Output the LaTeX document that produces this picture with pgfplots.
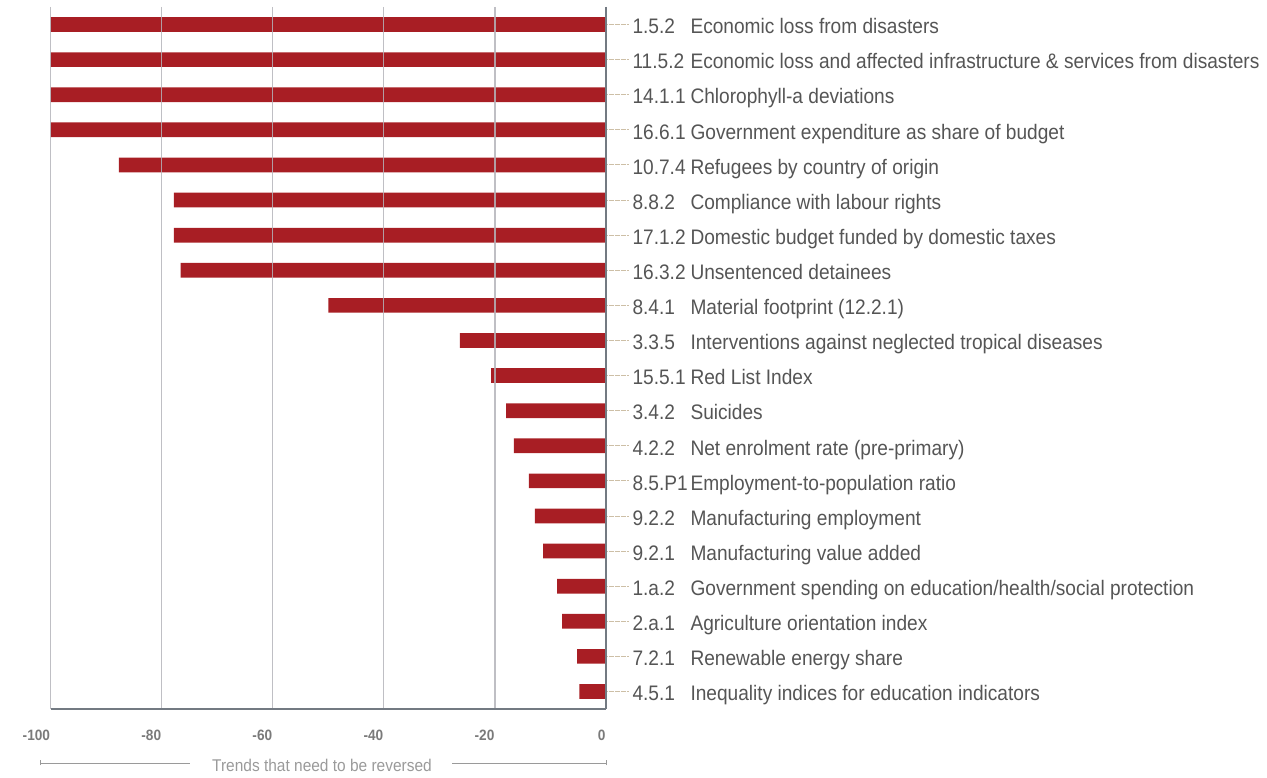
\documentclass[border=0pt]{standalone}
\usepackage{fontspec}
\setmainfont{Liberation Sans}[FakeStretch=0.91]
\usepackage{pgfplots}
\pgfplotsset{compat=1.18}
\usepackage{pgfplotstable}
\definecolor{barred}{HTML}{A81E24}
\definecolor{gridgrey}{HTML}{B4B4BA}
\definecolor{axisgrey}{HTML}{737A82}
\definecolor{labgrey}{HTML}{555555}
\definecolor{tickgrey}{HTML}{7A7A7A}
\definecolor{capgrey}{HTML}{9A9A9A}
\definecolor{leader}{HTML}{CDBFA6}

\pgfplotstableread{
y v
1 -100
2 -100
3 -100
4 -100
5 -87.7
6 -77.8
7 -77.8
8 -76.6
9 -50.0
10 -26.3
11 -20.7
12 -18.0
13 -16.6
14 -13.9
15 -12.8
16 -11.3
17 -8.8
18 -7.9
19 -5.2
20 -4.8
}\data

\newcommand{\lab}[2]{\makebox[58pt][l]{#1}#2}

\begin{document}
\begin{tikzpicture}[x=1pt,y=1pt]
\path[use as bounding box] (0,0) rectangle (1267,778);
\begin{axis}[
  at={(50.6pt,69pt)}, anchor=south west,
  scale only axis, width=555.4pt, height=702pt,
  xmin=-100, xmax=0, ymin=0.5, ymax=20.5, y dir=reverse,
  axis x line*=bottom, axis y line*=right,
  axis line style={axisgrey, line width=1.3pt},
  xtick={-100,-80,...,0},
  xmajorgrids, grid style={gridgrey, line width=1.3pt, opacity=0.85},
  x tick style={draw=none},
  xticklabel style={font=\bfseries\fontsize{15}{15}\selectfont, text=tickgrey, anchor=north east, yshift=5pt, xshift=3pt},
  /pgf/number format/assume math mode=true,
  ytick={1,...,20},
  tick align=outside,
  ytick pos=right,
  major tick length=22pt,
  y tick style={leader, densely dotted, line width=0.9pt},
  yticklabel style={font=\fontsize{21}{21}\selectfont, text=labgrey, anchor=west, text height=15pt, text depth=4.5pt, yshift=-4pt, xshift=1pt},
  yticklabels={
    {\lab{1.5.2}{Economic loss from disasters}},
    {\lab{11.5.2}{Economic loss and affected infrastructure \& services from disasters}},
    {\lab{14.1.1}{Chlorophyll-a deviations}},
    {\lab{16.6.1}{Government expenditure as share of budget}},
    {\lab{10.7.4}{Refugees by country of origin}},
    {\lab{8.8.2}{Compliance with labour rights}},
    {\lab{17.1.2}{Domestic budget funded by domestic taxes}},
    {\lab{16.3.2}{Unsentenced detainees}},
    {\lab{8.4.1}{Material footprint (12.2.1)}},
    {\lab{3.3.5}{Interventions against neglected tropical diseases}},
    {\lab{15.5.1}{Red List Index}},
    {\lab{3.4.2}{Suicides}},
    {\lab{4.2.2}{Net enrolment rate (pre-primary)}},
    {\lab{8.5.P1}{Employment-to-population ratio}},
    {\lab{9.2.2}{Manufacturing employment}},
    {\lab{9.2.1}{Manufacturing value added}},
    {\lab{1.a.2}{Government spending on education/health/social protection}},
    {\lab{2.a.1}{Agriculture orientation index}},
    {\lab{7.2.1}{Renewable energy share}},
    {\lab{4.5.1}{Inequality indices for education indicators}}
  },
  xbar, bar width=14.7pt,
  axis on top,
  clip=false,
]
\addplot[fill=barred, draw=none] table[x=v, y=y] {\data};
\end{axis}
\node[font=\fontsize{17}{17}\selectfont, text=capgrey, inner sep=0pt] at (322,13) {Trends that need to be reversed};
\draw[capgrey, line width=0.8pt] (40,15) -- (190,15);
\draw[capgrey, line width=0.8pt] (452,15) -- (606,15);
\draw[capgrey, line width=0.8pt] (40,12.5) -- (40,17.5);
\draw[capgrey, line width=0.8pt] (606,12.5) -- (606,17.5);
\end{tikzpicture}
\end{document}
